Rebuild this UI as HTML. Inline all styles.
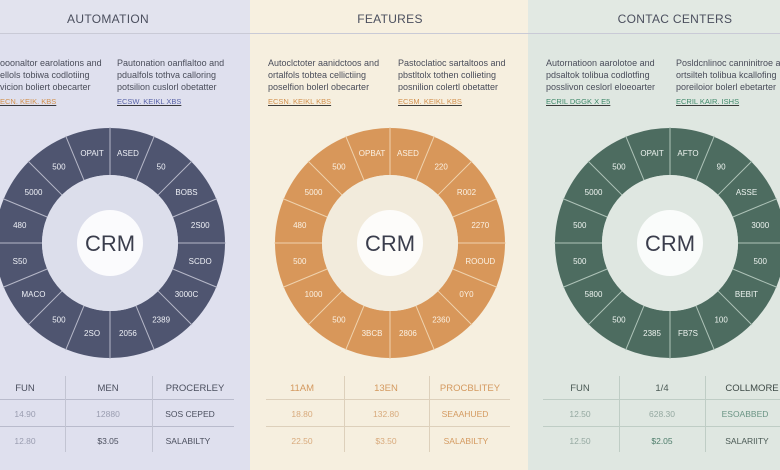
<!DOCTYPE html>
<html><head><meta charset="utf-8"><style>
html,body{margin:0;padding:0;width:780px;height:470px;overflow:hidden;background:#f6efdf}
svg{display:block;font-family:"Liberation Sans",sans-serif}
</style></head><body>
<svg width="780" height="470" viewBox="0 0 780 470">
<defs>
<g id="seps" stroke-width="1">
<line x1="0" y1="-68" x2="0" y2="-116" transform="rotate(0)"/><line x1="0" y1="-68" x2="0" y2="-116" transform="rotate(22.5)"/>
<line x1="0" y1="-68" x2="0" y2="-116" transform="rotate(45)"/><line x1="0" y1="-68" x2="0" y2="-116" transform="rotate(67.5)"/>
<line x1="0" y1="-68" x2="0" y2="-116" transform="rotate(90)"/><line x1="0" y1="-68" x2="0" y2="-116" transform="rotate(112.5)"/>
<line x1="0" y1="-68" x2="0" y2="-116" transform="rotate(135)"/><line x1="0" y1="-68" x2="0" y2="-116" transform="rotate(157.5)"/>
<line x1="0" y1="-68" x2="0" y2="-116" transform="rotate(180)"/><line x1="0" y1="-68" x2="0" y2="-116" transform="rotate(202.5)"/>
<line x1="0" y1="-68" x2="0" y2="-116" transform="rotate(225)"/><line x1="0" y1="-68" x2="0" y2="-116" transform="rotate(247.5)"/>
<line x1="0" y1="-68" x2="0" y2="-116" transform="rotate(270)"/><line x1="0" y1="-68" x2="0" y2="-116" transform="rotate(292.5)"/>
<line x1="0" y1="-68" x2="0" y2="-116" transform="rotate(315)"/><line x1="0" y1="-68" x2="0" y2="-116" transform="rotate(337.5)"/>
</g>
</defs>
<!-- backgrounds -->
<rect x="0" y="0" width="250" height="470" fill="#dfe0ee"/>
<rect x="250" y="0" width="278" height="470" fill="#f6efdf"/>
<rect x="528" y="0" width="252" height="470" fill="#dfe7e1"/>
<rect x="0" y="0" width="250" height="33" fill="#e2e3ee"/>
<rect x="250" y="0" width="278" height="33" fill="#f7f0e0"/>
<rect x="528" y="0" width="252" height="33" fill="#e2e9e3"/>
<line x1="0" y1="33.5" x2="780" y2="33.5" stroke="#c9cad6" stroke-width="1"/>

<!-- headers -->
<g font-size="12" fill="#4b4f5e" text-anchor="middle" letter-spacing="0.3">
<text x="108" y="23">AUTOMATION</text>
<text x="390" y="23">FEATURES</text>
<text x="675" y="23">CONTAC CENTERS</text>
</g>

<!-- descriptions -->
<g font-size="9" fill="#4a4d5a">
<text x="0" y="66">ooonaltor earolations and</text><text x="0" y="78">ellols tobiwa codlotiing</text><text x="0" y="90">vicion boliert obecarter</text>
<text x="117" y="66">Pautonation oanflaltoo and</text><text x="117" y="78">pdualfols tothva calloring</text><text x="117" y="90">potsilion cuslorl obetatter</text>
<text x="268" y="66">Autoclctoter aanidctoos and</text><text x="268" y="78">ortalfols tobtea cellictiing</text><text x="268" y="90">poselfion bolerl obecarter</text>
<text x="398" y="66">Pastoclatioc sartaltoos and</text><text x="398" y="78">pbstltolx tothen collieting</text><text x="398" y="90">posnilion colertl obetatter</text>
<text x="546" y="66">Autornatioon aarolotoe and</text><text x="546" y="78">pdsaltok tolibua codlotfing</text><text x="546" y="90">posslivon ceslorl eloeoarter</text>
<text x="676" y="66">Posldcnlinoc canninitroe and</text><text x="676" y="78">ortsilteh tolibua kcallofing</text><text x="676" y="90">poreiloior bolerl ebetarter</text>
</g>
<g font-size="7.5" text-decoration="underline">
<text x="0" y="104" fill="#d3914e">ECN. KEIK. KBS</text>
<text x="117" y="104" fill="#5a64a8">ECSW. KEIKL XBS</text>
<text x="268" y="104" fill="#d3914e">ECSN. KEIKL KBS</text>
<text x="398" y="104" fill="#d3914e">ECSM. KEIKL KBS</text>
<text x="546" y="104" fill="#3f8a6a">ECRIL DGGK X E5</text>
<text x="676" y="104" fill="#3f8a6a">ECRIL KAIR. ISHS</text>
</g>

<!-- donuts -->
<g transform="translate(110,243)">
<circle r="91.5" fill="none" stroke="#4f5570" stroke-width="47"/>
<use href="#seps" stroke="#b6b8c8"/>
<circle r="33" fill="#fbfbfd"/>
<text y="8" font-size="22" text-anchor="middle" fill="#3a3d4c">CRM</text>
<g font-size="8" fill="#eef0f6" text-anchor="middle">
<text transform="rotate(11.25) translate(0,-92) rotate(-11.25)" y="3">ASED</text>
<text transform="rotate(33.75) translate(0,-92) rotate(-33.75)" y="3">50</text>
<text transform="rotate(56.25) translate(0,-92) rotate(-56.25)" y="3">BOBS</text>
<text transform="rotate(78.75) translate(0,-92) rotate(-78.75)" y="3">2S00</text>
<text transform="rotate(101.25) translate(0,-92) rotate(-101.25)" y="3">SCDO</text>
<text transform="rotate(123.75) translate(0,-92) rotate(-123.75)" y="3">3000C</text>
<text transform="rotate(146.25) translate(0,-92) rotate(-146.25)" y="3">2389</text>
<text transform="rotate(168.75) translate(0,-92) rotate(-168.75)" y="3">2056</text>
<text transform="rotate(191.25) translate(0,-92) rotate(-191.25)" y="3">2SO</text>
<text transform="rotate(213.75) translate(0,-92) rotate(-213.75)" y="3">500</text>
<text transform="rotate(236.25) translate(0,-92) rotate(-236.25)" y="3">MACO</text>
<text transform="rotate(258.75) translate(0,-92) rotate(-258.75)" y="3">S50</text>
<text transform="rotate(281.25) translate(0,-92) rotate(-281.25)" y="3">480</text>
<text transform="rotate(303.75) translate(0,-92) rotate(-303.75)" y="3">5000</text>
<text transform="rotate(326.25) translate(0,-92) rotate(-326.25)" y="3">500</text>
<text transform="rotate(348.75) translate(0,-92) rotate(-348.75)" y="3">OPAIT</text>
</g></g>

<g transform="translate(390,243)">
<circle r="91.5" fill="none" stroke="#d8975a" stroke-width="47"/>
<use href="#seps" stroke="#efd2ad"/>
<circle r="68" fill="#f2ebdc"/>
<circle r="33" fill="#fdfcfa"/>
<text y="8" font-size="22" text-anchor="middle" fill="#3a3d4c">CRM</text>
<g font-size="8" fill="#fbf1e3" text-anchor="middle">
<text transform="rotate(11.25) translate(0,-92) rotate(-11.25)" y="3">ASED</text>
<text transform="rotate(33.75) translate(0,-92) rotate(-33.75)" y="3">220</text>
<text transform="rotate(56.25) translate(0,-92) rotate(-56.25)" y="3">R002</text>
<text transform="rotate(78.75) translate(0,-92) rotate(-78.75)" y="3">2270</text>
<text transform="rotate(101.25) translate(0,-92) rotate(-101.25)" y="3">ROOUD</text>
<text transform="rotate(123.75) translate(0,-92) rotate(-123.75)" y="3">0Y0</text>
<text transform="rotate(146.25) translate(0,-92) rotate(-146.25)" y="3">2360</text>
<text transform="rotate(168.75) translate(0,-92) rotate(-168.75)" y="3">2806</text>
<text transform="rotate(191.25) translate(0,-92) rotate(-191.25)" y="3">3BCB</text>
<text transform="rotate(213.75) translate(0,-92) rotate(-213.75)" y="3">500</text>
<text transform="rotate(236.25) translate(0,-92) rotate(-236.25)" y="3">1000</text>
<text transform="rotate(258.75) translate(0,-92) rotate(-258.75)" y="3">500</text>
<text transform="rotate(281.25) translate(0,-92) rotate(-281.25)" y="3">480</text>
<text transform="rotate(303.75) translate(0,-92) rotate(-303.75)" y="3">5000</text>
<text transform="rotate(326.25) translate(0,-92) rotate(-326.25)" y="3">500</text>
<text transform="rotate(348.75) translate(0,-92) rotate(-348.75)" y="3">OPBAT</text>
</g></g>

<g transform="translate(670,243)">
<circle r="91.5" fill="none" stroke="#4d6c60" stroke-width="47"/>
<use href="#seps" stroke="#aec3b8"/>
<circle r="68" fill="#dfe7e1"/>
<circle r="33" fill="#fafcfb"/>
<text y="8" font-size="22" text-anchor="middle" fill="#3a3d4c">CRM</text>
<g font-size="8" fill="#edf3ef" text-anchor="middle">
<text transform="rotate(11.25) translate(0,-92) rotate(-11.25)" y="3">AFTO</text>
<text transform="rotate(33.75) translate(0,-92) rotate(-33.75)" y="3">90</text>
<text transform="rotate(56.25) translate(0,-92) rotate(-56.25)" y="3">ASSE</text>
<text transform="rotate(78.75) translate(0,-92) rotate(-78.75)" y="3">3000</text>
<text transform="rotate(101.25) translate(0,-92) rotate(-101.25)" y="3">500</text>
<text transform="rotate(123.75) translate(0,-92) rotate(-123.75)" y="3">BEBIT</text>
<text transform="rotate(146.25) translate(0,-92) rotate(-146.25)" y="3">100</text>
<text transform="rotate(168.75) translate(0,-92) rotate(-168.75)" y="3">FB7S</text>
<text transform="rotate(191.25) translate(0,-92) rotate(-191.25)" y="3">2385</text>
<text transform="rotate(213.75) translate(0,-92) rotate(-213.75)" y="3">500</text>
<text transform="rotate(236.25) translate(0,-92) rotate(-236.25)" y="3">5800</text>
<text transform="rotate(258.75) translate(0,-92) rotate(-258.75)" y="3">500</text>
<text transform="rotate(281.25) translate(0,-92) rotate(-281.25)" y="3">500</text>
<text transform="rotate(303.75) translate(0,-92) rotate(-303.75)" y="3">5000</text>
<text transform="rotate(326.25) translate(0,-92) rotate(-326.25)" y="3">500</text>
<text transform="rotate(348.75) translate(0,-92) rotate(-348.75)" y="3">OPAIT</text>
</g></g>
<circle cx="110" cy="243" r="68" fill="#dcdeeb"/><circle cx="110" cy="243" r="33" fill="#fbfbfd"/>
<text x="110" y="251" font-size="22" text-anchor="middle" fill="#3a3d4c">CRM</text>

<!-- tables -->
<g stroke-width="1">
<line x1="0" y1="399.5" x2="234" y2="399.5" stroke="#b9bbcc"/><line x1="0" y1="426.5" x2="234" y2="426.5" stroke="#b9bbcc"/>
<line x1="65.5" y1="376" x2="65.5" y2="452" stroke="#c2c4d2"/><line x1="152.5" y1="376" x2="152.5" y2="452" stroke="#c2c4d2"/>
<line x1="266" y1="399.5" x2="510" y2="399.5" stroke="#ddd0bb"/><line x1="266" y1="426.5" x2="510" y2="426.5" stroke="#ddd0bb"/>
<line x1="344.5" y1="376" x2="344.5" y2="452" stroke="#ddd0bb"/><line x1="429.5" y1="376" x2="429.5" y2="452" stroke="#ddd0bb"/>
<line x1="543" y1="399.5" x2="780" y2="399.5" stroke="#bfcdc5"/><line x1="543" y1="426.5" x2="780" y2="426.5" stroke="#bfcdc5"/>
<line x1="619.5" y1="376" x2="619.5" y2="452" stroke="#bfcdc5"/><line x1="705.5" y1="376" x2="705.5" y2="452" stroke="#bfcdc5"/>
</g>
<g font-size="9.5" text-anchor="middle">
<text x="25" y="391" fill="#4b4f5e">FUN</text><text x="108" y="391" fill="#4b4f5e">MEN</text><text x="195" y="391" fill="#4b4f5e">PROCERLEY</text>
<text x="25" y="417" fill="#9a9db0" font-size="8.5">14.90</text><text x="108" y="417" fill="#9a9db0" font-size="8.5">12880</text><text x="190" y="417" fill="#4b4f5e" font-size="8.5">SOS CEPED</text>
<text x="25" y="444" fill="#9a9db0" font-size="8.5">12.80</text><text x="108" y="444" fill="#4b4f5e" font-size="8.5">$3.05</text><text x="188" y="444" fill="#4b4f5e" font-size="8.5">SALABILTY</text>

<text x="302" y="391" fill="#d49a60">11AM</text><text x="386" y="391" fill="#d49a60">13EN</text><text x="470" y="391" fill="#d49a60">PROCBLITEY</text>
<text x="302" y="417" fill="#d8aa7c" font-size="8.5">18.80</text><text x="386" y="417" fill="#d8aa7c" font-size="8.5">132.80</text><text x="465" y="417" fill="#d49a60" font-size="8.5">SEAAHUED</text>
<text x="302" y="444" fill="#d8aa7c" font-size="8.5">22.50</text><text x="386" y="444" fill="#d8aa7c" font-size="8.5">$3.50</text><text x="466" y="444" fill="#d49a60" font-size="8.5">SALABILTY</text>

<text x="580" y="391" fill="#4b5a55">FUN</text><text x="662" y="391" fill="#4b5a55">1/4</text><text x="752" y="391" fill="#3e4a46">COLLMORE</text>
<text x="580" y="417" fill="#94a8a0" font-size="8.5">12.50</text><text x="662" y="417" fill="#94a8a0" font-size="8.5">628.30</text><text x="745" y="417" fill="#6a9484" font-size="8.5">ESOABBED</text>
<text x="580" y="444" fill="#94a8a0" font-size="8.5">12.50</text><text x="662" y="444" fill="#4e7d6b" font-size="8.5">$2.05</text><text x="747" y="444" fill="#4b5a55" font-size="8.5">SALARIITY</text>
</g>
</svg>
</body></html>
